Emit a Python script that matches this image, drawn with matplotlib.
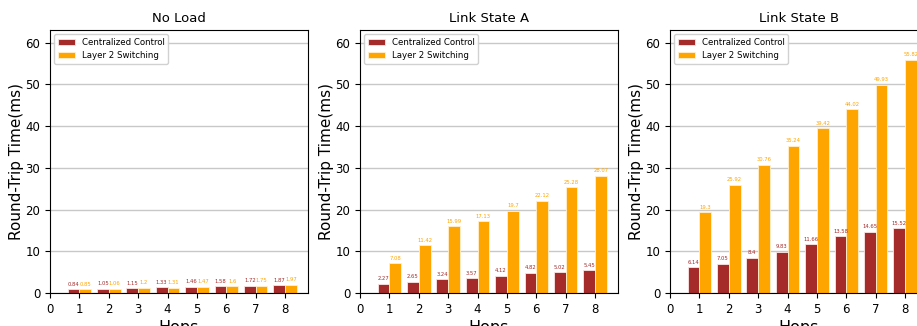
import numpy as np
import matplotlib.pyplot as plt

hops = [1, 2, 3, 4, 5, 6, 7, 8]
titles = ["No Load", "Link State A", "Link State B"]

# Centralized Control RTT (ms)
cc_noload = [0.84, 1.05, 1.15, 1.33, 1.46, 1.58, 1.72, 1.87]
cc_state_a = [2.27, 2.65, 3.24, 3.57, 4.12, 4.82, 5.02, 5.45]
cc_state_b = [6.14, 7.05, 8.4, 9.83, 11.66, 13.58, 14.65, 15.52]

# Layer 2 Switching RTT (ms)
l2_noload = [0.85, 1.06, 1.2, 1.31, 1.47, 1.6, 1.75, 1.97]
l2_state_a = [7.08, 11.42, 15.99, 17.13, 19.7, 22.12, 25.28, 28.07]
l2_state_b = [19.3, 25.92, 30.76, 35.24, 39.42, 44.02, 49.93, 55.82]

cc_all = [cc_noload, cc_state_a, cc_state_b]
l2_all = [l2_noload, l2_state_a, l2_state_b]

red = "#a52a2a"
orange = "#ffa500"
width = 0.4

fig = plt.figure(figsize=(9.17, 3.26), dpi=100)

x = np.array(hops)
for i in range(3):
    left = (50 + 310 * i) / 917
    ax = fig.add_axes([left, 33 / 326, 258 / 917, 263 / 326])
    ax.set_axisbelow(True)
    ax.grid(axis="y", color="#c8c8c8", linewidth=1)

    b1 = ax.bar(x - width / 2, cc_all[i], width, color=red, edgecolor="#fbe6e6",
                linewidth=0.6, label="Centralized Control")
    b2 = ax.bar(x + width / 2, l2_all[i], width, color=orange, edgecolor="#fff0d0",
                linewidth=0.6, label="Layer 2 Switching")

    for bars, vals, c in [(b1, cc_all[i], red), (b2, l2_all[i], orange)]:
        for bar, v in zip(bars, vals):
            ax.text(bar.get_x() + bar.get_width() / 2, bar.get_height() + 0.6,
                    str(v), ha="center", va="bottom", fontsize=3.8, color=c)

    ax.set_xlim(0, 8.78)
    ax.set_ylim(0, 63)
    ax.set_xticks(range(0, 9))
    ax.set_yticks(range(0, 61, 10))
    ax.tick_params(labelsize=8.5, length=3.5)
    ax.set_title(titles[i], fontsize=9.5)
    ax.set_xlabel("Hops", fontsize=11.5, labelpad=3)
    ax.set_ylabel("Round-Trip Time(ms)", fontsize=11, labelpad=1)
    ax.legend(loc="upper left", fontsize=6.2, framealpha=0.9)

fig.savefig("out.png", dpi=100)
